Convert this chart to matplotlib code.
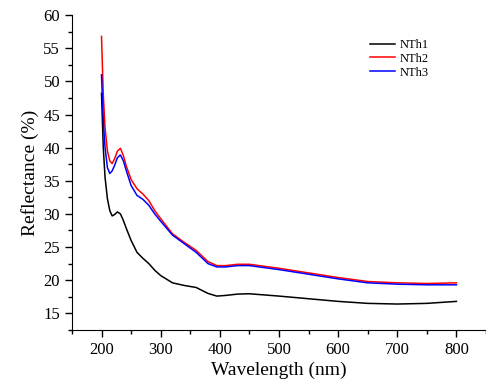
import matplotlib
matplotlib.use("Agg")
import matplotlib.pyplot as plt
from matplotlib.ticker import MultipleLocator

plt.rcParams["font.family"] = ["Liberation Serif", "DejaVu Serif"]

# Wavelength grid (nm) and reflectance (%)
wavelength = [200, 203, 206, 210, 214, 218, 222, 227, 232, 237, 242, 250, 260, 270,
              280, 290, 300, 320, 340, 360, 380, 395, 410, 430, 450, 500, 550, 600,
              650, 700, 750, 800]
nth1 = [48.2, 40.0, 35.5, 32.3, 30.5, 29.7, 29.9, 30.3, 30.0, 29.0, 27.8, 26.0, 24.2, 23.3,
        22.5, 21.5, 20.7, 19.6, 19.2, 18.9, 18.0, 17.6, 17.7, 17.9, 17.95, 17.6, 17.2, 16.8,
        16.5, 16.4, 16.5, 16.8]
nth2 = [56.8, 48.0, 43.0, 39.5, 38.0, 37.6, 38.3, 39.5, 39.9, 38.8, 37.2, 35.2, 33.8, 33.0,
        32.0, 30.5, 29.3, 27.0, 25.7, 24.5, 22.8, 22.2, 22.2, 22.4, 22.4, 21.8, 21.1, 20.4,
        19.8, 19.6, 19.5, 19.6]
nth3 = [51.0, 44.0, 40.0, 37.0, 36.1, 36.5, 37.3, 38.5, 38.9, 38.0, 36.5, 34.3, 32.8, 32.2,
        31.3, 30.0, 28.9, 26.8, 25.5, 24.2, 22.5, 22.0, 22.0, 22.2, 22.2, 21.6, 20.9, 20.2,
        19.6, 19.4, 19.3, 19.3]

fig = plt.figure(figsize=(4.86, 3.89), dpi=100)
ax = fig.add_axes([0.148, 0.152, 0.852, 0.809])

ax.plot(wavelength, nth1, color="black", lw=1.1, label="NTh1")
ax.plot(wavelength, nth2, color="red", lw=1.1, label="NTh2")
ax.plot(wavelength, nth3, color="blue", lw=1.1, label="NTh3")

ax.set_xlim(150, 850)
ax.set_ylim(12.5, 60)
ax.xaxis.set_minor_locator(MultipleLocator(50))
ax.yaxis.set_major_locator(MultipleLocator(5))
ax.yaxis.set_minor_locator(MultipleLocator(2.5))
ax.set_xticks(range(200, 801, 100))

ax.spines["top"].set_visible(False)
ax.spines["right"].set_visible(False)
ax.tick_params(which="major", direction="out", length=5, width=1, labelsize=12)
ax.tick_params(which="minor", direction="out", length=3, width=1)

ax.set_xlabel("Wavelength (nm)", fontsize=14, labelpad=3)
ax.set_ylabel("Reflectance (%)", fontsize=14, labelpad=3)

ax.legend(loc="upper left", bbox_to_anchor=(0.761, 0.9), bbox_transform=fig.transFigure,
          frameon=False, fontsize=9, handlelength=2.0, handletextpad=0.4,
          labelspacing=0.15, borderpad=0, borderaxespad=0)

fig.savefig("out.png", dpi=100)
